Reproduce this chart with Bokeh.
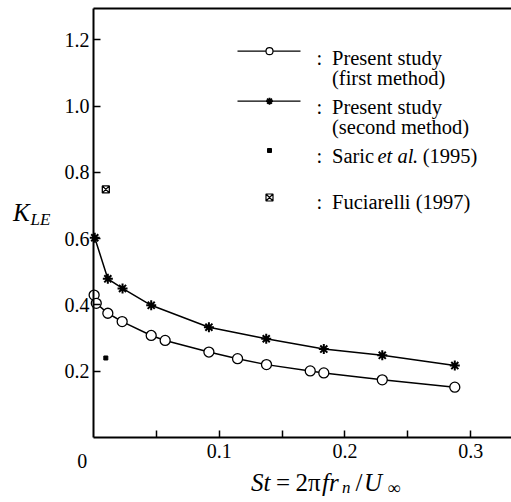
from bokeh.plotting import figure
from bokeh.models import FixedTicker, PrintfTickFormatter, Label, Range1d
from bokeh.embed import file_html
from bokeh.resources import INLINE

# ---- data ----
st_first = [0.0005, 0.0022, 0.0114, 0.0228, 0.0459, 0.0570, 0.0918, 0.1146, 0.1376, 0.1724, 0.1832, 0.2297, 0.2874]
k_first = [0.430, 0.405, 0.375, 0.350, 0.308, 0.293, 0.258, 0.238, 0.220, 0.201, 0.195, 0.174, 0.152]

st_second = [0.0010, 0.0114, 0.0231, 0.0459, 0.0918, 0.1374, 0.1832, 0.2297, 0.2874]
k_second = [0.603, 0.479, 0.450, 0.399, 0.333, 0.298, 0.267, 0.248, 0.217]

st_saric = [0.0098]
k_saric = [0.240]

st_fuciarelli = [0.0098]
k_fuciarelli = [0.749]

y_ticks = [0.2, 0.4, 0.6, 0.8, 1.0, 1.2]
x_ticks = [0.1, 0.2, 0.3]
x_minor = [0.05, 0.15, 0.25]

legend_labels = [["Present study", "(first method)"],
                 ["Present study", "(second method)"]]

# ---- layout ----
W, H = 511, 502
LEFT, TOP = 93, 8            # where the axes box starts on the canvas
FW, FH = 418, 429            # size of the axes box
X0, X1 = 0.0, 0.3325         # visible axis span
Y0, Y1 = 0.0, 1.295

def dx(px):
    return X0 + (px - LEFT) / FW * (X1 - X0)

def dy(py):
    return Y1 - (py - TOP) / FH * (Y1 - Y0)

FONT = "Liberation Serif"

# the plotting frame covers the whole canvas; axes sit at fixed locations
p = figure(width=W, height=H,
           x_range=Range1d(dx(0), dx(W)), y_range=Range1d(dy(H), dy(0)),
           output_backend="svg", toolbar_location=None)
p.min_border = 0
p.min_border_left = 0
p.min_border_right = 0
p.min_border_top = 0
p.min_border_bottom = 0
p.outline_line_color = None
p.grid.visible = False
p.background_fill_color = "white"
p.border_fill_color = "white"

xax = p.below[0]
yax = p.left[0]
for ax in (xax, yax):
    ax.axis_line_width = 2
    ax.axis_line_color = "black"
    ax.major_tick_in = 7
    ax.major_tick_out = 0
    ax.major_tick_line_width = 1.5
    ax.major_tick_line_color = "black"
    ax.minor_tick_in = 7
    ax.minor_tick_out = 0
    ax.minor_tick_line_width = 1.5
    ax.minor_tick_line_color = "black"
    ax.major_label_text_font = FONT
    ax.major_label_text_font_size = "20px"
    ax.major_label_text_color = "black"
    ax.formatter = PrintfTickFormatter(format="%.1f")

xax.fixed_location = Y0
xax.bounds = (X0, X1)
xax.ticker = FixedTicker(ticks=x_ticks, minor_ticks=x_minor)
xax.major_label_standoff = 6
yax.fixed_location = X0
yax.bounds = (Y0, Y1)
yax.ticker = FixedTicker(ticks=y_ticks)
yax.minor_tick_line_color = None
yax.major_label_standoff = 4

# top border of the axes box
p.segment(x0=[X0], y0=[Y1], x1=[X1], y1=[Y1], line_color="black", line_width=2)

# ---- data series ----
p.line(st_first, k_first, line_color="black", line_width=1.5)
p.scatter(st_first, k_first, marker="circle", size=10, line_color="black",
          line_width=1.3, fill_color="white")

p.line(st_second, k_second, line_color="black", line_width=1.5)
p.scatter(st_second, k_second, marker="asterisk", size=10, line_color="black",
          line_width=2)

p.scatter(st_saric, k_saric, marker="square", size=4, line_color="black",
          fill_color="black")
p.scatter(st_fuciarelli, k_fuciarelli, marker="square_x", size=7,
          line_color="black", line_width=1.3, fill_color="white")

# ---- legend (drawn manually) ----
lx0, lx1, lxm = dx(237), dx(300), dx(269)
p.line([lx0, lx1], [dy(50.7), dy(50.7)], line_color="black", line_width=1.3)
p.scatter([lxm], [dy(50.7)], marker="circle", size=7, line_color="black",
          line_width=1.2, fill_color="white")
p.line([lx0, lx1], [dy(100.7), dy(100.7)], line_color="black", line_width=1.3)
p.scatter([lxm], [dy(100.7)], marker="asterisk", size=7, line_color="black",
          line_width=1.8)
p.scatter([lxm], [dy(150)], marker="square", size=4, line_color="black",
          fill_color="black")
p.scatter([lxm], [dy(197)], marker="square_x", size=7, line_color="black",
          line_width=1.2, fill_color="white")

def txt(px, py, s, size="20.5px", style="normal", align="left"):
    p.add_layout(Label(x=dx(px), y=dy(py), text=s, text_font=FONT,
                       text_font_size=size, text_font_style=style,
                       text_align=align, text_baseline="alphabetic",
                       text_color="black"))

TX = 331.5
for by in (57.3, 106, 155.7, 201):
    txt(316, by, ":")
txt(TX, 57.3, legend_labels[0][0])
txt(TX, 77.5, legend_labels[0][1])
txt(TX, 106, legend_labels[1][0])
txt(TX, 126.7, legend_labels[1][1])
txt(TX, 155.7, "Saric")
txt(377, 155.7, "et al", style="italic")
txt(412, 155.7, ". (1995)")
txt(TX, 201, "Fuciarelli (1997)")

# origin label
txt(81.7, 460, "0", size="20px", align="center")

# y axis label K_LE
txt(12.5, 211.5, "K", size="25px", style="italic")
txt(30, 219, "LE", size="17px", style="italic")

# x axis label St = 2 pi f r_n / U_inf
txt(250.5, 481.7, "St", size="25px", style="italic")
txt(275.5, 481.7, "=", size="25px")
txt(295, 481.7, "2\u03c0", size="25px")
txt(321.5, 481.7, "fr", size="25px", style="italic")
txt(341.5, 487, "n", size="17px", style="italic")
txt(355, 481.7, "/", size="25px")
txt(363.5, 481.7, "U", size="25px", style="italic")
txt(387, 487, "\u221e", size="18px")

open("out.html", "w").write(file_html(p, INLINE))
